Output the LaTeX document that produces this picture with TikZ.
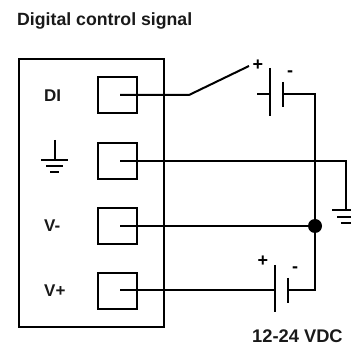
\documentclass[tikz,border=0pt]{standalone}
\usepackage{fontspec}
\setmainfont{Liberation Sans}
\begin{document}
\begin{tikzpicture}[x=1pt,y=-1pt,
  wire/.style={line width=2pt,black},
  term/.style={draw=black,line width=2pt,minimum width=39pt,minimum height=36pt,inner sep=0pt,outer sep=0pt},
  lab/.style={font=\bfseries\fontsize{17}{18}\selectfont,text=black!90,inner sep=0pt,anchor=base west},
  sgn/.style={font=\bfseries\fontsize{18}{20}\selectfont,text=black,inner sep=0pt},
  junction/.style={circle,fill=black,minimum size=14pt,inner sep=0pt}]
\useasboundingbox (0,0) rectangle (351,347);
\node[lab,font=\bfseries\fontsize{17.7}{20}\selectfont] (title) at (17,26) {Digital control signal};
\node[draw=black,line width=2pt,minimum width=145pt,minimum height=268pt,inner sep=0pt] (box) at (91.5,193) {};
\node[term] (t1) at (117.5,95) {};
\node[term] (t2) at (117.5,161) {};
\node[term] (t3) at (117.5,226) {};
\node[term] (t4) at (117.5,291) {};
\node[lab] (ldi) at (44,101.5) {DI};
\node[lab] (lvm) at (44,232) {V-};
\node[lab] (lvp) at (44,297) {V+};
\coordinate (c1) at (120,95);
\coordinate (c2) at (120,161);
\coordinate (c3) at (120,226);
\coordinate (c4) at (120,290.5);
\node[junction] (dot) at (315,226) {};
% switch and battery 1
\coordinate (sw1) at (189,95);
\coordinate (sw2) at (249,66);
\draw[wire] (c1) -- (sw1) -- (sw2);
\node[sgn] (p1) at (258,65) {+};
\node[sgn] (m1) at (290,74) {-};
\coordinate (b1a) at (257,94);
\coordinate (b1b) at (270,94);
\coordinate (b1c) at (283,94);
\coordinate (b1d) at (315,94);
\draw[wire] (b1a) -- (b1b);
\draw[wire] (270,68) -- (270,116);
\draw[wire] (283,82) -- (283,107);
\draw[wire] (b1c) -- (b1d) -- (dot);
% ground wire
\coordinate (g1) at (345.5,161);
\coordinate (g2) at (345.5,210.5);
\draw[wire] (c2) -- (g1) -- (g2);
\draw[wire] (332,210.5) -- (351,210.5);
\draw[wire] (337,217) -- (351,217);
\draw[wire] (341,223) -- (351,223);
% V-
\draw[wire] (c3) -- (dot);
% battery 2
\coordinate (b2a) at (275,290.5);
\coordinate (b2b) at (288,290.5);
\coordinate (b2c) at (315,290.5);
\draw[wire] (c4) -- (b2a);
\draw[wire] (275,265) -- (275,312);
\draw[wire] (288,278) -- (288,303);
\draw[wire] (b2b) -- (b2c) -- (dot);
\node[sgn] (p2) at (263,261) {+};
\node[sgn] (m2) at (295,270) {-};
\node[lab,font=\bfseries\fontsize{18.3}{20}\selectfont] (vdc) at (252,343) {12-24 VDC};
% left ground
\draw[wire] (54.5,140) -- (54.5,160.5);
\draw[wire] (41,160.5) -- (68,160.5);
\draw[wire] (46,166.5) -- (63,166.5);
\draw[wire] (50,172.5) -- (59,172.5);
\end{tikzpicture}
\end{document}
